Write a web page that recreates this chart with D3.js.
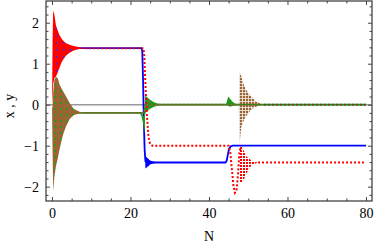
<!DOCTYPE html>
<html>
<head>
<meta charset="utf-8">
<script src="https://cdn.jsdelivr.net/npm/d3@7"></script>
<style>
  body { margin: 0; background: #fff; }
  text { font-family: "Liberation Serif", "DejaVu Serif", serif; }
</style>
</head>
<body>
<div id="chart"></div>
<script>
// x-series: blue solid (x1) and red dotted (x2); y-series: green solid (y1) and brown dotted (y2)
const blueLine = [[5, 1.38], [22.8, 1.38], [23.0, 1.3], [23.2, 0.6], [23.4, -0.4], [23.6, -1.1], [23.8, -1.38], [24.2, -1.41],
  [44.2, -1.41], [44.5, -1.37], [44.8, -1.22], [45.1, -1.08], [45.5, -1.02], [46, -1.0], [80, -1.0]];
const blueBandN = [23.75, 23.8, 24.3, 25, 26, 27.5];
const blueBandHi = [-1.3, -1.25, -1.3, -1.36, -1.39, -1.41];
const blueBandLo = [-1.4, -1.56, -1.52, -1.46, -1.43, -1.41];

const redLine = [[8.5, 1.38], [23.3, 1.38], [23.5, 1.2], [23.8, 0.5], [24.2, -0.3], [24.6, -0.8], [25, -0.96], [25.6, -1.0],
  [45.0, -1.0], [45.4, -1.15], [45.8, -1.55], [46.2, -1.95], [46.6, -2.15], [47.0, -2.1], [47.4, -1.7], [47.7, -1.2], [48.0, -1.05]];
const redTail = [[52.5, -1.41], [80, -1.41]];
const startBandN = [0, 0.15, 0.3, 0.6, 1, 1.5, 1.9, 2.5, 3, 3.6, 4.5, 5.5, 7, 8.7];
const xStartHi = [0, 1.6, 2.3, 2.2, 1.94, 1.8, 1.7, 1.6, 1.55, 1.5, 1.46, 1.43, 1.4, 1.38];
const xStartLo = [0, 0.2, 0.5, 0.65, 0.68, 0.8, 0.9, 1.05, 1.12, 1.2, 1.27, 1.32, 1.36, 1.38];
const redBandN = [47.9, 48.3, 49, 49.6, 50.5, 51.2, 52.5];
const redBandHi = [-1.02, -1.02, -1.15, -1.27, -1.34, -1.38, -1.41];
const redBandLo = [-1.9, -1.91, -1.8, -1.67, -1.52, -1.46, -1.41];

const greenLine = [[5, -0.2], [22.3, -0.2], [23.6, -0.2], [23.8, 0], [80, 0]];
const greenDipN = [22.3, 22.8, 23.2, 23.5, 23.7];
const greenDipHi = [-0.2, -0.22, -0.25, -0.3, -0.2];
const greenDipLo = [-0.2, -0.28, -0.45, -0.7, -0.5];
const greenBandN = [23.7, 24, 25, 26, 27, 28];
const greenBandHi = [0.22, 0.2, 0.12, 0.06, 0.02, 0];
const greenBandLo = [-0.2, -0.18, -0.1, -0.05, -0.02, 0];
const greenSpikeN = [44.3, 44.9, 45.3, 46, 47];
const greenSpikeHi = [0, 0.2, 0.15, 0.07, 0];
const greenSpikeLo = [0, -0.02, -0.05, -0.03, 0];

const brownLine = [[8.5, -0.2], [23.4, -0.2], [23.6, -0.1], [23.8, 0], [47.6, 0]];
const brownTail = [[54, 0], [80, 0]];
const yStartHi = [0, -0.1, 0.3, 0.6, 0.68, 0.64, 0.5, 0.38, 0.3, 0.2, 0.04, -0.1, -0.17, -0.2];
const yStartLo = [0, -1.2, -2.12, -1.76, -1.5, -1.3, -1.1, -0.85, -0.68, -0.52, -0.35, -0.26, -0.21, -0.2];
const brownBandN = [47.6, 47.75, 48.2, 49, 50, 51, 52, 53, 54];
const brownBandHi = [0, 0.8, 0.7, 0.45, 0.28, 0.17, 0.08, 0.03, 0];
const brownBandLo = [0, -1.0, -0.55, -0.35, -0.2, -0.1, -0.05, -0.02, 0];

const xMajor = [0, 20, 40, 60, 80];
const xMinor = [5, 10, 15, 25, 30, 35, 45, 50, 55, 65, 70, 75];
const yMajor = [-2, -1, 0, 1, 2];
const yMinor = [-2.2, -1.8, -1.6, -1.4, -1.2, -0.8, -0.6, -0.4, -0.2, 0.2, 0.4, 0.6, 0.8, 1.2, 1.4, 1.6, 1.8, 2.2, 2.4];

const W = 374, H = 245;
const pl = 46, pr = 372, pt = 1, pb = 201;

const svg = d3.select('#chart').append('svg').attr('width', W).attr('height', H);
const x = d3.scaleLinear().domain([-1.53, 81.53]).range([pl, pr]);
const y = d3.scaleLinear().domain([-2.35, 2.53]).range([pb, pt]);

const defs = svg.append('defs');
const pattern = (id, bg, dot, size, r) => {
  const p = defs.append('pattern').attr('id', id).attr('patternUnits', 'userSpaceOnUse')
    .attr('width', size).attr('height', size);
  if (bg) p.append('rect').attr('width', size).attr('height', size).attr('fill', bg);
  p.append('rect').attr('x', 0).attr('y', 0).attr('width', r).attr('height', r).attr('fill', dot);
};
pattern('redBlue', '#ff0000', '#3030ff', 7, 1.6);
pattern('brownGreen', '#996633', '#18a018', 6, 1.8);
pattern('redDots', null, '#ff0000', 3, 2);
pattern('brownDots', null, '#9a6633', 3, 2.3);
pattern('greenBrown', '#1a9a1a', '#996633', 4, 1.5);

const plot = svg.append('g');
plot.append('line').attr('x1', pl).attr('x2', pr).attr('y1', y(0)).attr('y2', y(0))
  .attr('stroke', '#9a9a9a').attr('stroke-width', 1.5);

const line = d3.line().x(d => x(d[0])).y(d => y(d[1]));
const band = (ns, hi, lo, fill) => {
  const pts = ns.map((n, i) => [n, hi[i], lo[i]]);
  plot.append('path').datum(pts)
    .attr('d', d3.area().x(d => x(d[0])).y0(d => y(d[2])).y1(d => y(d[1])))
    .attr('fill', fill);
};
const drawLine = (pts, color, dotted) => {
  plot.append('path').datum(pts).attr('d', line).attr('fill', 'none')
    .attr('stroke', color).attr('stroke-width', dotted ? 2 : 1.8)
    .attr('stroke-dasharray', dotted ? '2,2' : null);
};

// solid series
band(blueBandN, blueBandHi, blueBandLo, '#0000ff');
drawLine(blueLine, '#0000ff', false);
band(greenDipN, greenDipHi, greenDipLo, '#1a9a1a');
band(greenBandN, greenBandHi, greenBandLo, 'url(#greenBrown)');
band(greenSpikeN, greenSpikeHi, greenSpikeLo, '#1a9a1a');
drawLine(greenLine, '#1a8a1a', false);

// dotted series on top
band(startBandN, xStartHi, xStartLo, 'url(#redBlue)');
band(startBandN, yStartHi, yStartLo, 'url(#brownGreen)');
drawLine(redLine, '#ff0000', true);
band(redBandN, redBandHi, redBandLo, 'url(#redDots)');
drawLine(redTail, '#ff0000', true);
drawLine(brownLine, '#996633', true);
band(brownBandN, brownBandHi, brownBandLo, 'url(#brownDots)');
drawLine(brownTail, '#6b4a20', true);

// frame with inward ticks on all sides
const axes = svg.append('g');
const fmt = d3.format('d');
const styleAxis = g => {
  g.select('.domain').remove();
  g.selectAll('.tick line').attr('stroke', '#444');
  g.selectAll('text').attr('font-size', 14).attr('fill', '#000')
    .attr('font-family', '"Liberation Serif", serif');
};
axes.append('g').attr('transform', `translate(0,${pb})`)
  .call(d3.axisBottom(x).tickValues(xMajor).tickSize(-4).tickPadding(7).tickFormat(fmt)).call(styleAxis);
axes.append('g').attr('transform', `translate(0,${pb})`)
  .call(d3.axisBottom(x).tickValues(xMinor).tickSize(-2.5).tickFormat('')).call(styleAxis);
axes.append('g').attr('transform', `translate(0,${pt})`)
  .call(d3.axisTop(x).tickValues(xMajor).tickSize(-4).tickFormat('')).call(styleAxis);
axes.append('g').attr('transform', `translate(0,${pt})`)
  .call(d3.axisTop(x).tickValues(xMinor).tickSize(-2.5).tickFormat('')).call(styleAxis);
axes.append('g').attr('transform', `translate(${pl},0)`)
  .call(d3.axisLeft(y).tickValues(yMajor).tickSize(-4).tickPadding(7).tickFormat(fmt)).call(styleAxis);
axes.append('g').attr('transform', `translate(${pl},0)`)
  .call(d3.axisLeft(y).tickValues(yMinor).tickSize(-2.5).tickFormat('')).call(styleAxis);
axes.append('g').attr('transform', `translate(${pr},0)`)
  .call(d3.axisRight(y).tickValues(yMajor).tickSize(-4).tickFormat('')).call(styleAxis);
axes.append('g').attr('transform', `translate(${pr},0)`)
  .call(d3.axisRight(y).tickValues(yMinor).tickSize(-2.5).tickFormat('')).call(styleAxis);

axes.append('rect').attr('x', pl).attr('y', pt).attr('width', pr - pl).attr('height', pb - pt)
  .attr('fill', 'none').attr('stroke', '#444').attr('stroke-width', 1.3);

svg.append('text').attr('x', (pl + pr) / 2).attr('y', 241).attr('text-anchor', 'middle')
  .attr('font-size', 14).text('N');
svg.append('text').attr('transform', 'translate(14,106) rotate(-90)').attr('text-anchor', 'middle')
  .attr('font-size', 14).text('x , y');
</script>
</body>
</html>
